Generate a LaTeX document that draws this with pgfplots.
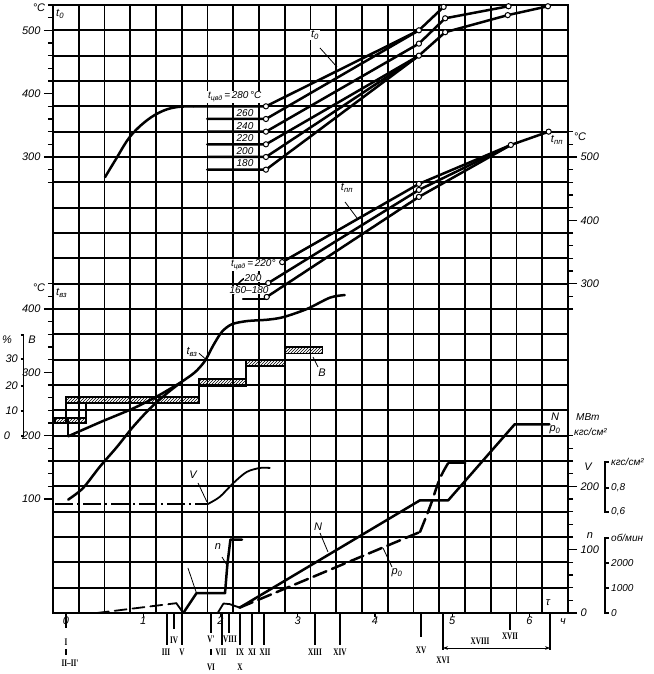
\documentclass[border=0pt]{standalone}
\usepackage{fontspec}
\setmainfont{Liberation Sans}
\newfontfamily\romfont{Liberation Serif}
\usepackage{pgfplots}
\pgfplotsset{compat=1.18}
\usetikzlibrary{patterns,arrows.meta}
\newcommand\rn[1]{\scalebox{0.72}[1]{#1}}
\begin{document}
\begin{tikzpicture}[x=1pt,y=1pt,
  lab/.style={font=\fontsize{11}{12}\selectfont\itshape, inner sep=0pt},
  sml/.style={font=\fontsize{10}{11}\selectfont\itshape, inner sep=0pt},
  wb/.style={fill=white, inner sep=0.8pt},
  rom/.style={font=\fontsize{10}{10}\selectfont\romfont\bfseries, inner sep=0pt},
  ld/.style={black, line width=0.8pt},
  mk/.style={black, line width=1.3pt}]
\useasboundingbox (0,0) rectangle (653,674);
\pgfplotsset{
  base/.style={at={(53pt,61pt)}, anchor=south west, scale only axis,
    width=515pt, height=608pt, xmin=-0.1666667, xmax=6.5, clip=false},
  ov/.style={base, axis x line=none, xtick=\empty, axis y line*=left,
    y axis line style={draw=none}, tick align=outside,
    major tick length=9pt, minor tick length=5pt,
    every tick/.style={black, line width=1.1pt},
    yticklabel style={font=\fontsize{11}{12}\selectfont\itshape},
    /pgf/number format/assume math mode=true},
  ovr/.style={ov, axis y line*=right},
  ovn/.style={base, hide axis},
  cur/.style={black, line width=2.5pt, line join=round, line cap=round},
  circ/.style={only marks, mark=*, mark size=2.6pt, mark options={fill=white, draw=black, line width=1pt}},
}
% ---------- grid ----------
\begin{axis}[base, clip=true,
  axis line style={black, line width=2pt},
  xtick={0,1,2,3,4,5,6},
  minor xtick={-0.1666667,0.1666667,0.5,0.8333333,1.1666667,1.5,1.8333333,2.1666667,2.5,2.8333333,3.1666667,3.5,3.8333333,4.1666667,4.5,4.8333333,5.1666667,5.5,5.8333333,6.1666667,6.5},
  ymin=0, ymax=24, ytick={0,1,...,24}, yticklabels={},
  xminorgrids=true, xmajorgrids=false, ymajorgrids=true,
  minor grid style={black, line width=1.9pt},
  major grid style={black, line width=1.9pt},
  tick style={draw=none},
  xticklabel style={font=\fontsize{11}{12}\selectfont\itshape},
  /pgf/number format/assume math mode=true]
\addplot[draw=none] coordinates {(0,0)};
\end{axis}
% ---------- t0 ----------
\begin{axis}[ov, ymin=-420, ymax=540, ytick={300,400,500}, minor ytick={260,280,...,540}]
\addplot[cur, smooth, tension=0.6] coordinates {(0.506,268) (0.64,295) (0.83,332) (1.05,358) (1.26,373) (1.45,379) (1.65,380)};
\addplot[cur] coordinates {(1.65,380) (2.59,380) (4.57,500) (4.89,537)};
\addplot[cur] coordinates {(1.83,360) (2.59,360) (4.57,500)};
\addplot[cur] coordinates {(1.83,340) (2.59,340) (4.57,479) (4.91,519) (5.73,538)};
\addplot[cur] coordinates {(1.83,320) (2.59,320) (4.57,460) (4.91,497) (5.72,524) (6.24,538)};
\addplot[cur] coordinates {(1.83,300) (2.59,300) (4.57,460)};
\addplot[cur] coordinates {(1.83,280) (2.59,280) (4.57,460)};
\addplot[circ] coordinates {(2.59,380)(2.59,360)(2.59,340)(2.59,320)(2.59,300)(2.59,280)(4.57,500)(4.57,479)(4.57,460)(4.89,537)(4.91,519)(4.91,497)(5.73,538)(5.72,524)(6.24,538)};
\end{axis}
% ---------- t_vz ----------
\begin{axis}[ov, ymin=-80, ymax=880, ytick={100,200,300,400}, minor ytick={100,120,...,440}]
\addplot[cur, smooth, tension=0.5] coordinates {(0.03,99)(0.22,117)(0.44,151)(0.66,182)(0.87,214)(1.09,243)(1.31,267)(1.5,285)(1.67,300)(1.8,318)(1.91,343)(2.02,364)(2.15,376)(2.35,381)(2.6,383)(2.81,387)(3.12,400)(3.42,418)(3.61,422)};
\addplot[cur, smooth] coordinates {(0.03,199)(0.44,221)(0.87,243)(1.18,262)(1.5,285)};
\end{axis}
% ---------- t_pp ----------
\begin{axis}[ovr, ymin=-220, ymax=740, ytick={300,400,500}, minor ytick={260,280,...,540}]
\addplot[cur] coordinates {(2.8,334)(4.57,457.5)(5.76,519)(6.25,540)};
\addplot[cur] coordinates {(2.62,301)(4.57,448)(5.76,519)};
\addplot[cur] coordinates {(2.6,279)(4.57,437)(5.76,519)};
\addplot[cur, line width=1.5pt, smooth] coordinates {(2.17,283)(2.22,298)(2.32,309)(2.5,315)};
\addplot[cur, line width=1.5pt] coordinates {(2.29,276)(2.6,276)};
\addplot[circ] coordinates {(2.8,334)(2.62,301)(2.6,279)(4.57,457.5)(4.57,448)(4.57,437)(5.76,519)(6.25,540)};
\end{axis}
% ---------- N, p0 ----------
\begin{axis}[ovr, ymin=0, ymax=960, ytick={0,100,200}, minor ytick={0,20,...,280}]
\addplot[cur, line width=1.8pt, dash pattern=on 12pt off 6pt] coordinates {(0.4,0)(1.43,15.5)};
\addplot[cur, line width=1.8pt] coordinates {(1.43,15.5)(1.52,0)};
\addplot[cur, line width=1.8pt, dash pattern=on 10pt off 5pt] coordinates {(1.52,0)(1.97,0)};
\addplot[cur, line width=1.8pt] coordinates {(1.97,1)(2.04,15)(2.12,14)(2.25,8.5)};
\addplot[cur] coordinates {(2.25,8.5)(4.585,178)(4.95,178)(5.81,298)(6.26,298)};
\addplot[cur, dash pattern=on 14pt off 6pt] coordinates {(2.25,8.5)(4.585,128)};
\addplot[cur, dash pattern=on 14pt off 6pt, smooth] coordinates {(4.585,128)(4.72,170)(4.84,212)(4.95,237)};
\addplot[cur] coordinates {(4.95,237)(5.17,237)};
\end{axis}
% ---------- B % ----------
\begin{axis}[ovn, ymin=-70, ymax=170]
\addplot[black, line width=1.6pt, pattern=north east lines] coordinates {(-0.14,5)(0,5)(0,7)(-0.14,7)} --cycle;
\addplot[black, line width=1.6pt, pattern=north east lines] coordinates {(0,13)(1.72,13)(1.72,15.2)(0,15.2)} --cycle;
\addplot[black, line width=1.6pt, pattern=north east lines] coordinates {(0.03,5)(0.26,5)(0.26,7)(0.03,7)} --cycle;
\addplot[black, line width=1.6pt, pattern=north east lines] coordinates {(1.72,19.7)(2.33,19.7)(2.33,22.3)(1.72,22.3)} --cycle;
\addplot[black, line width=1.6pt, pattern=north east lines] coordinates {(2.33,27.5)(2.84,27.5)(2.84,29.9)(2.33,29.9)} --cycle;
\addplot[black, line width=1.6pt, pattern=north east lines] coordinates {(2.84,32.5)(3.32,32.5)(3.32,35.1)(2.84,35.1)} --cycle;
\addplot[black, line width=1.8pt] coordinates {(0,5)(0,15.2)};
\addplot[black, line width=1.8pt] coordinates {(0.03,0)(0.03,7)};
\addplot[black, line width=1.8pt] coordinates {(0.26,7)(0.26,13)};
\addplot[black, line width=1.8pt] coordinates {(1.72,13)(1.72,22.3)};
\addplot[black, line width=1.8pt] coordinates {(2.33,19.7)(2.33,29.9)};
\addplot[black, line width=1.8pt] coordinates {(2.84,27.5)(2.84,35.1)};
\end{axis}
% ---------- V ----------
\begin{axis}[ovn, ymin=-0.2, ymax=4.6]
\addplot[black, line width=1.8pt, dash pattern=on 18pt off 4pt on 2pt off 4pt] coordinates {(-0.14,0.658)(1.83,0.658)};
\addplot[cur, line width=1.8pt, smooth] coordinates {(1.83,0.658)(1.99,0.716)(2.17,0.827)(2.34,0.913)(2.51,0.945)(2.64,0.945)};
\end{axis}
% ---------- n ----------
\begin{axis}[ovn, ymin=0, ymax=24000]
\addplot[cur] coordinates {(1.52,0)(1.69,780)(2.06,780)(2.09,1900)(2.13,2900)(2.28,2900)};
\addplot[ld] coordinates {(1.58,1780)(1.69,790)};
\end{axis}
% ---------- decorations ----------
\foreach \xx in {143.15,220.4,297.65,374.9,452.15,529.4} \draw[mk] (\xx,61) -- (\xx,57);
% scale labels
\node[lab] at (39,666) {°C};
\node[lab, anchor=west] at (56,660) {t\textsubscript{0}};
\node[lab] at (39,386) {°C};
\node[lab, anchor=west] at (56,381) {t\textsubscript{вз}};
% percent scale
\draw[mk] (20.5,339) -- (23.3,339) -- (23.3,238) -- (20.5,238);
\foreach \yy in {315,288,263} \draw[mk] (20.5,\yy) -- (23.3,\yy);
\node[lab] at (7,334) {\%};
\node[lab] at (32,334) {В};
\node[lab, anchor=east] at (18,315) {30};
\node[lab, anchor=east] at (18,288) {20};
\node[lab, anchor=east] at (18,263) {10};
\node[lab] at (7,238) {0};
% V scale
\draw[mk] (608.5,212) -- (605,212) -- (605,162) -- (608.5,162);
\draw[mk] (605,186) -- (608.5,186);
\node[lab] at (588,207) {V};
\node[sml, anchor=west] at (611,212) {кгс/см²};
\node[sml, anchor=west] at (611,186) {0,8};
\node[sml, anchor=west] at (611,162) {0,6};
% n scale
\draw[mk] (608.5,136) -- (605,136) -- (605,61) -- (608.5,61);
\draw[mk] (605,111) -- (608.5,111);
\draw[mk] (605,86) -- (608.5,86);
\node[lab] at (590,138) {n};
\node[sml, anchor=west] at (611,136) {об/мин};
\node[sml, anchor=west] at (611,111) {2000};
\node[sml, anchor=west] at (611,86) {1000};
\node[sml, anchor=west] at (611,61) {0};
% N p0 scale
\node[lab] at (555,257) {N};
\node[lab] at (555,244) {p\textsubscript{0}};
\node[sml, anchor=west] at (576,257) {МВт};
\node[sml, anchor=west] at (574,242) {кгс/см²};
% t_pp scale
\node[lab] at (557,534) {t\textsubscript{пп}};
\node[lab] at (580,537) {°C};
% curve labels
\node[lab, wb] at (315,639) {t\textsubscript{0}};
\draw[ld] (320,626) -- (337,607);
\node[sml, wb, anchor=west] at (207,577) {t\textsubscript{цвд}\,=\,280\,°C};
\node[sml, wb] at (245,561) {260};
\node[sml, wb] at (245,548) {240};
\node[sml, wb] at (245,536) {220};
\node[sml, wb] at (245,523) {200};
\node[sml, wb] at (245,511) {180};
\node[sml, wb, anchor=west] at (230,409) {t\textsubscript{цвд}\,=\,220°};
\node[sml, wb] at (253,396) {200};
\node[sml, wb] at (249,384) {160–180};
\node[lab, wb] at (347,486) {t\textsubscript{пп}};
\draw[ld] (345,472) -- (357,456);
\node[lab, wb] at (192,322) {t\textsubscript{вз}};
\draw[ld] (199,320.7) -- (206.7,314);
\node[lab] at (322,301) {В};
\draw[ld] (313,317) -- (318,307);
\node[lab, wb] at (193,199) {V};
\draw[ld] (198,191) -- (207,172);
\node[lab, wb] at (218,127) {n};
\draw[ld] (222,117) -- (228,107);
\node[lab, wb] at (318,147) {N};
\draw[ld] (320,141) -- (328,122);
\node[lab, wb] at (397,101) {p\textsubscript{0}};
\draw[ld] (383,126) -- (392,107);
\node[lab, wb] at (548,71) {τ};
\node[lab] at (563,52) {ч};
% stage markers
\draw[mk] (65.9,61) -- (65.9,46); \node[rom] at (65.9,32) {\rn{I}};
\draw[mk] (65.9,25) -- (65.9,19); \node[rom] at (70,11) {\rn{II–II'}};
\draw[mk] (167,61) -- (167,29); \node[rom] at (166,22) {\rn{III}};
\draw[mk] (174,61) -- (174,45); \node[rom] at (174,34) {\rn{IV}};
\draw[mk] (182,61) -- (182,29); \node[rom] at (182,22) {\rn{V}};
\draw[mk] (211,61) -- (211,41); \node[rom] at (211,35) {\rn{V'}};
\draw[mk] (211,25) -- (211,19); \node[rom] at (211,7) {\rn{VI}};
\draw[mk] (222,61) -- (222,29); \node[rom] at (221,22) {\rn{VII}};
\draw[mk] (229,61) -- (229,41); \node[rom] at (230,35) {\rn{VIII}};
\draw[mk] (240,61) -- (240,29); \node[rom] at (240,22) {\rn{IX}};
\node[rom] at (240,7) {\rn{X}};
\draw[mk] (252,61) -- (252,29); \node[rom] at (252,22) {\rn{XI}};
\draw[mk] (264,61) -- (264,29); \node[rom] at (265,22) {\rn{XII}};
\draw[mk] (315,61) -- (315,29); \node[rom] at (315,22) {\rn{XIII}};
\draw[mk] (340,61) -- (340,29); \node[rom] at (340,22) {\rn{XIV}};
\draw[mk] (421,61) -- (421,37); \node[rom] at (421,24) {\rn{XV}};
\draw[mk] (443,61) -- (443,24); \node[rom] at (443,14) {\rn{XVI}};
\draw[mk] (510,61) -- (510,44); \node[rom] at (510,38) {\rn{XVII}};
\draw[mk] (550,61) -- (550,24);
\draw[ld, {Stealth[length=5pt]}-{Stealth[length=5pt]}] (443,26) -- (550,26);
\node[rom] at (480,33) {\rn{XVIII}};
\end{tikzpicture}
\end{document}
